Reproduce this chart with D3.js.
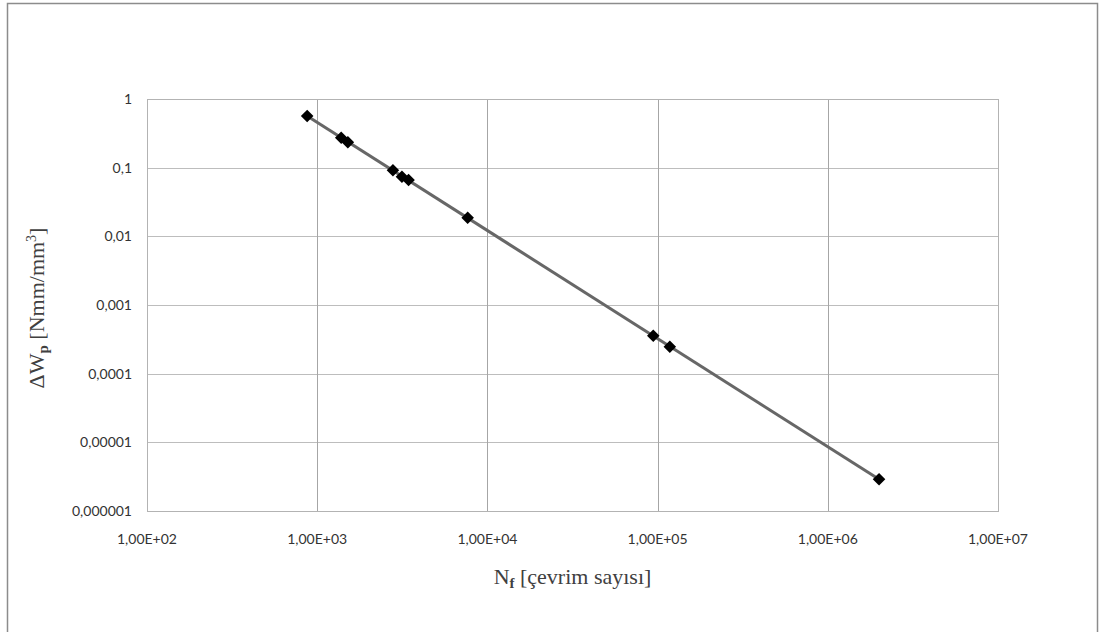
<!DOCTYPE html>
<html>
<head>
<meta charset="utf-8">
<script src="https://cdn.jsdelivr.net/npm/d3@7"></script>
<style>
	body { margin: 0; background: #fff; }
	svg { display: block; }
</style>
</head>
<body>
<div id="chart"></div>
<script>
// cycles to failure and plastic strain energy density
var cycles = [873, 1384, 1514, 2786, 3148, 3443, 7657, 94300, 118000, 2000000];
var energy = [0.565, 0.273, 0.234, 0.0915, 0.0739, 0.066, 0.0187, 0.000357, 0.000247, 0.0000029];
var xTicks = [1e2, 1e3, 1e4, 1e5, 1e6, 1e7];
var xTickLabels = ["1,00E+02", "1,00E+03", "1,00E+04", "1,00E+05", "1,00E+06", "1,00E+07"];
var yTicks = [1, 0.1, 0.01, 0.001, 0.0001, 0.00001, 0.000001];
var yTickLabels = ["1", "0,1", "0,01", "0,001", "0,0001", "0,00001", "0,000001"];

var width = 1112, height = 632;
var margin = {left: 147, right: 114, top: 99, bottom: 121};

var svg = d3.select("#chart").append("svg")
	.attr("width", width)
	.attr("height", height);

// outer chart border
svg.append("rect")
	.attr("x", 7.5).attr("y", 3.5)
	.attr("width", 1090).attr("height", 640)
	.style("fill", "none")
	.style("stroke", "#8c8c8c")
	.style("stroke-width", 1.5);

var x = d3.scaleLog().domain([1e2, 1e7]).range([margin.left, width - margin.right]);
var y = d3.scaleLog().domain([1e-6, 1]).range([height - margin.bottom, margin.top]);

// gridlines
svg.selectAll(".hgrid").data(yTicks).enter().append("line")
	.attr("x1", x(1e2)).attr("x2", x(1e7))
	.attr("y1", function(d) { return Math.round(y(d)) + 0.5; })
	.attr("y2", function(d) { return Math.round(y(d)) + 0.5; })
	.style("stroke", "#bdbdbd").style("stroke-width", 1);
svg.selectAll(".vgrid").data(xTicks).enter().append("line")
	.attr("y1", y(1)).attr("y2", y(1e-6))
	.attr("x1", function(d) { return Math.round(x(d)) + 0.5; })
	.attr("x2", function(d) { return Math.round(x(d)) + 0.5; })
	.style("stroke", "#a6a6a6").style("stroke-width", 1);

// plot area frame
svg.append("rect")
	.attr("x", x(1e2) + 0.5).attr("y", y(1) + 0.5)
	.attr("width", x(1e7) - x(1e2)).attr("height", y(1e-6) - y(1))
	.style("fill", "none").style("stroke", "#b3b3b3");

// tick labels
svg.selectAll(".ylab").data(yTicks).enter().append("text")
	.attr("x", x(1e2) - 15)
	.attr("y", function(d) { return y(d) + 5; })
	.attr("text-anchor", "end")
	.style("font-family", "Lato, 'Open Sans', sans-serif")
	.style("font-size", "14px")
	.style("fill", "#333")
	.text(function(d, i) { return yTickLabels[i]; });
svg.selectAll(".xlab").data(xTicks).enter().append("text")
	.attr("x", function(d) { return x(d); })
	.attr("y", y(1e-6) + 33)
	.attr("text-anchor", "middle")
	.style("font-family", "Lato, 'Open Sans', sans-serif")
	.style("font-size", "14px")
	.style("fill", "#333")
	.text(function(d, i) { return xTickLabels[i]; });

// power law trendline fitted in log space
var lx = cycles.map(Math.log10), ly = energy.map(Math.log10);
var mx = d3.mean(lx), my = d3.mean(ly);
var sxy = d3.sum(lx, function(d, i) { return (d - mx) * (ly[i] - my); });
var sxx = d3.sum(lx, function(d) { return (d - mx) * (d - mx); });
var slope = sxy / sxx, icpt = my - slope * mx;
var ends = d3.extent(cycles);
svg.append("path")
	.datum(ends)
	.attr("d", d3.line()
		.x(function(d) { return x(d); })
		.y(function(d) { return y(Math.pow(10, icpt + slope * Math.log10(d))); }))
	.style("fill", "none")
	.style("stroke", "#676767")
	.style("stroke-width", 3);

// markers
svg.selectAll(".pt").data(cycles).enter().append("path")
	.attr("d", d3.symbol().type(d3.symbolDiamond2).size(100))
	.attr("transform", function(d, i) { return "translate(" + x(d) + "," + y(energy[i]) + ")"; })
	.style("fill", "#000");

// axis titles
var xt = svg.append("text")
	.attr("x", (x(1e2) + x(1e7)) / 2)
	.attr("y", 584)
	.attr("text-anchor", "middle")
	.style("font-family", "'Liberation Serif', 'DejaVu Serif', serif")
	.style("font-size", "22px")
	.style("fill", "#404040");
xt.append("tspan").text("N");
xt.append("tspan").attr("dy", 4).style("font-size", "15px").style("font-weight", "bold").text("f");
xt.append("tspan").attr("dy", -4).text(" [çevrim sayısı]");

var yt = svg.append("text")
	.attr("transform", "translate(44," + (y(1e-3) + 3) + ") rotate(-90)")
	.attr("text-anchor", "middle")
	.style("font-family", "'Liberation Serif', 'DejaVu Serif', serif")
	.style("font-size", "22px")
	.style("fill", "#404040");
yt.append("tspan").text("ΔW");
yt.append("tspan").attr("dy", 4).style("font-size", "15px").style("font-weight", "bold").text("p");
yt.append("tspan").attr("dy", -4).text(" [Nmm/mm");
yt.append("tspan").attr("dy", -8).style("font-size", "14px").text("3");
yt.append("tspan").attr("dy", 8).text("]");
</script>
</body>
</html>
